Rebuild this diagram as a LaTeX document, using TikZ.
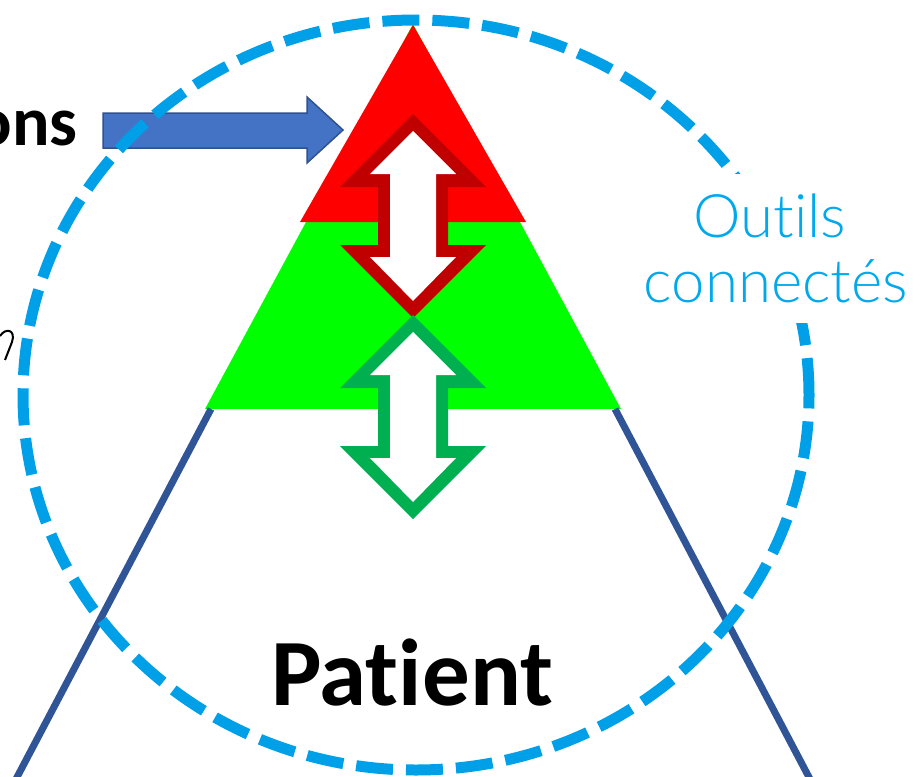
\documentclass[tikz,border=0pt]{standalone}
\usepackage{fontspec}
\setmainfont{Carlito}[Ligatures={NoCommon}]
\IfFontExistsTF{Lato Light}{\newfontfamily\thinfont{Lato Light}[Ligatures={NoCommon}]}{\newfontfamily\thinfont{Lato}[Ligatures={NoCommon}]}
\definecolor{brightgreen}{HTML}{00FF00}
\definecolor{brightred}{HTML}{FF0000}
\definecolor{darkred}{HTML}{C00000}
\definecolor{darkgreen}{HTML}{00B050}
\definecolor{lineblue}{HTML}{2F5597}
\definecolor{arrowfill}{HTML}{4472C4}
\definecolor{arrowedge}{HTML}{2F528F}
\definecolor{circblue}{HTML}{00A0E9}
\definecolor{textblue}{HTML}{00A8EC}
\tikzset{
  sideline/.style={draw=lineblue, line width=7pt},
  circline/.style={draw=circblue, line width=11pt, dash pattern=on 37pt off 13pt},
  bluearrow/.style={fill=arrowfill, draw=arrowedge, line width=1.5pt, line join=miter},
  boldlabel/.style={font=\bfseries\fontsize{70}{70}\selectfont, inner sep=0pt},
  outilslabel/.style={font=\thinfont\fontsize{60}{65}\selectfont, text=textblue, inner sep=0pt},
}
\newcommand\dblarrowshape[2]{%
  \begin{scope}[shift={(0,#2)}]
    \fill[#1] (413,114) -- (486,187) -- (448,187) -- (448,245) -- (486,245) -- (413,318)
      -- (340,245) -- (378,245) -- (378,187) -- (340,187) -- cycle;
    \fill[white] (413,131) -- (456,174) -- (436,174) -- (436,257) -- (456,257) -- (413,301)
      -- (370,257) -- (390,257) -- (390,174) -- (370,174) -- cycle;
  \end{scope}}
\begin{document}
\begin{tikzpicture}[x=1pt,y=-1pt]
\useasboundingbox (0,0) rectangle (920,776);
% triangles
\coordinate (apex) at (413,24);
\coordinate (gl) at (205,409);
\coordinate (gr) at (621,409);
\coordinate (rl) at (300,222);
\coordinate (rr) at (526,222);
\fill[brightgreen] (apex) -- (gr) -- (gl) -- cycle;
\fill[brightred] (413,25) -- (rr) -- (rl) -- cycle;
% side lines
\coordinate (ltop) at (211,409);
\coordinate (lbot) at (5,800);
\coordinate (rtop) at (615,409);
\coordinate (rbot) at (821,800);
\draw[sideline] (ltop) -- (lbot);
\draw[sideline] (rtop) -- (rbot);
% double arrows
\dblarrowshape{darkred}{0}
\dblarrowshape{darkgreen}{201}
% blue arrow
\path[bluearrow] (103,113) -- (307,113) -- (307,97) -- (343,130) -- (307,163) -- (307,148) -- (103,148) -- cycle;
% dashed ellipse
\draw[circline] (416,395) ellipse [x radius=393pt, y radius=375pt];
% white box behind label
\fill[white] (640,174) rectangle (920,323);
\node[outilslabel, anchor=base] (outils) at (770,237) {Outils};
\node[outilslabel, anchor=base] (connectes) at (776,302) {connectés};
% texts
\node[boldlabel, anchor=base east] (ons) at (78,145) {ons};
\node[font=\bfseries\fontsize{95}{95}\selectfont, inner sep=0pt, anchor=base] (patient) at (412,705) {Patient};
% small fragment at left edge
\draw[line width=2pt] (0,336) .. controls (6,327) and (16,330) .. (12,342) -- (5,360);
\end{tikzpicture}
\end{document}
